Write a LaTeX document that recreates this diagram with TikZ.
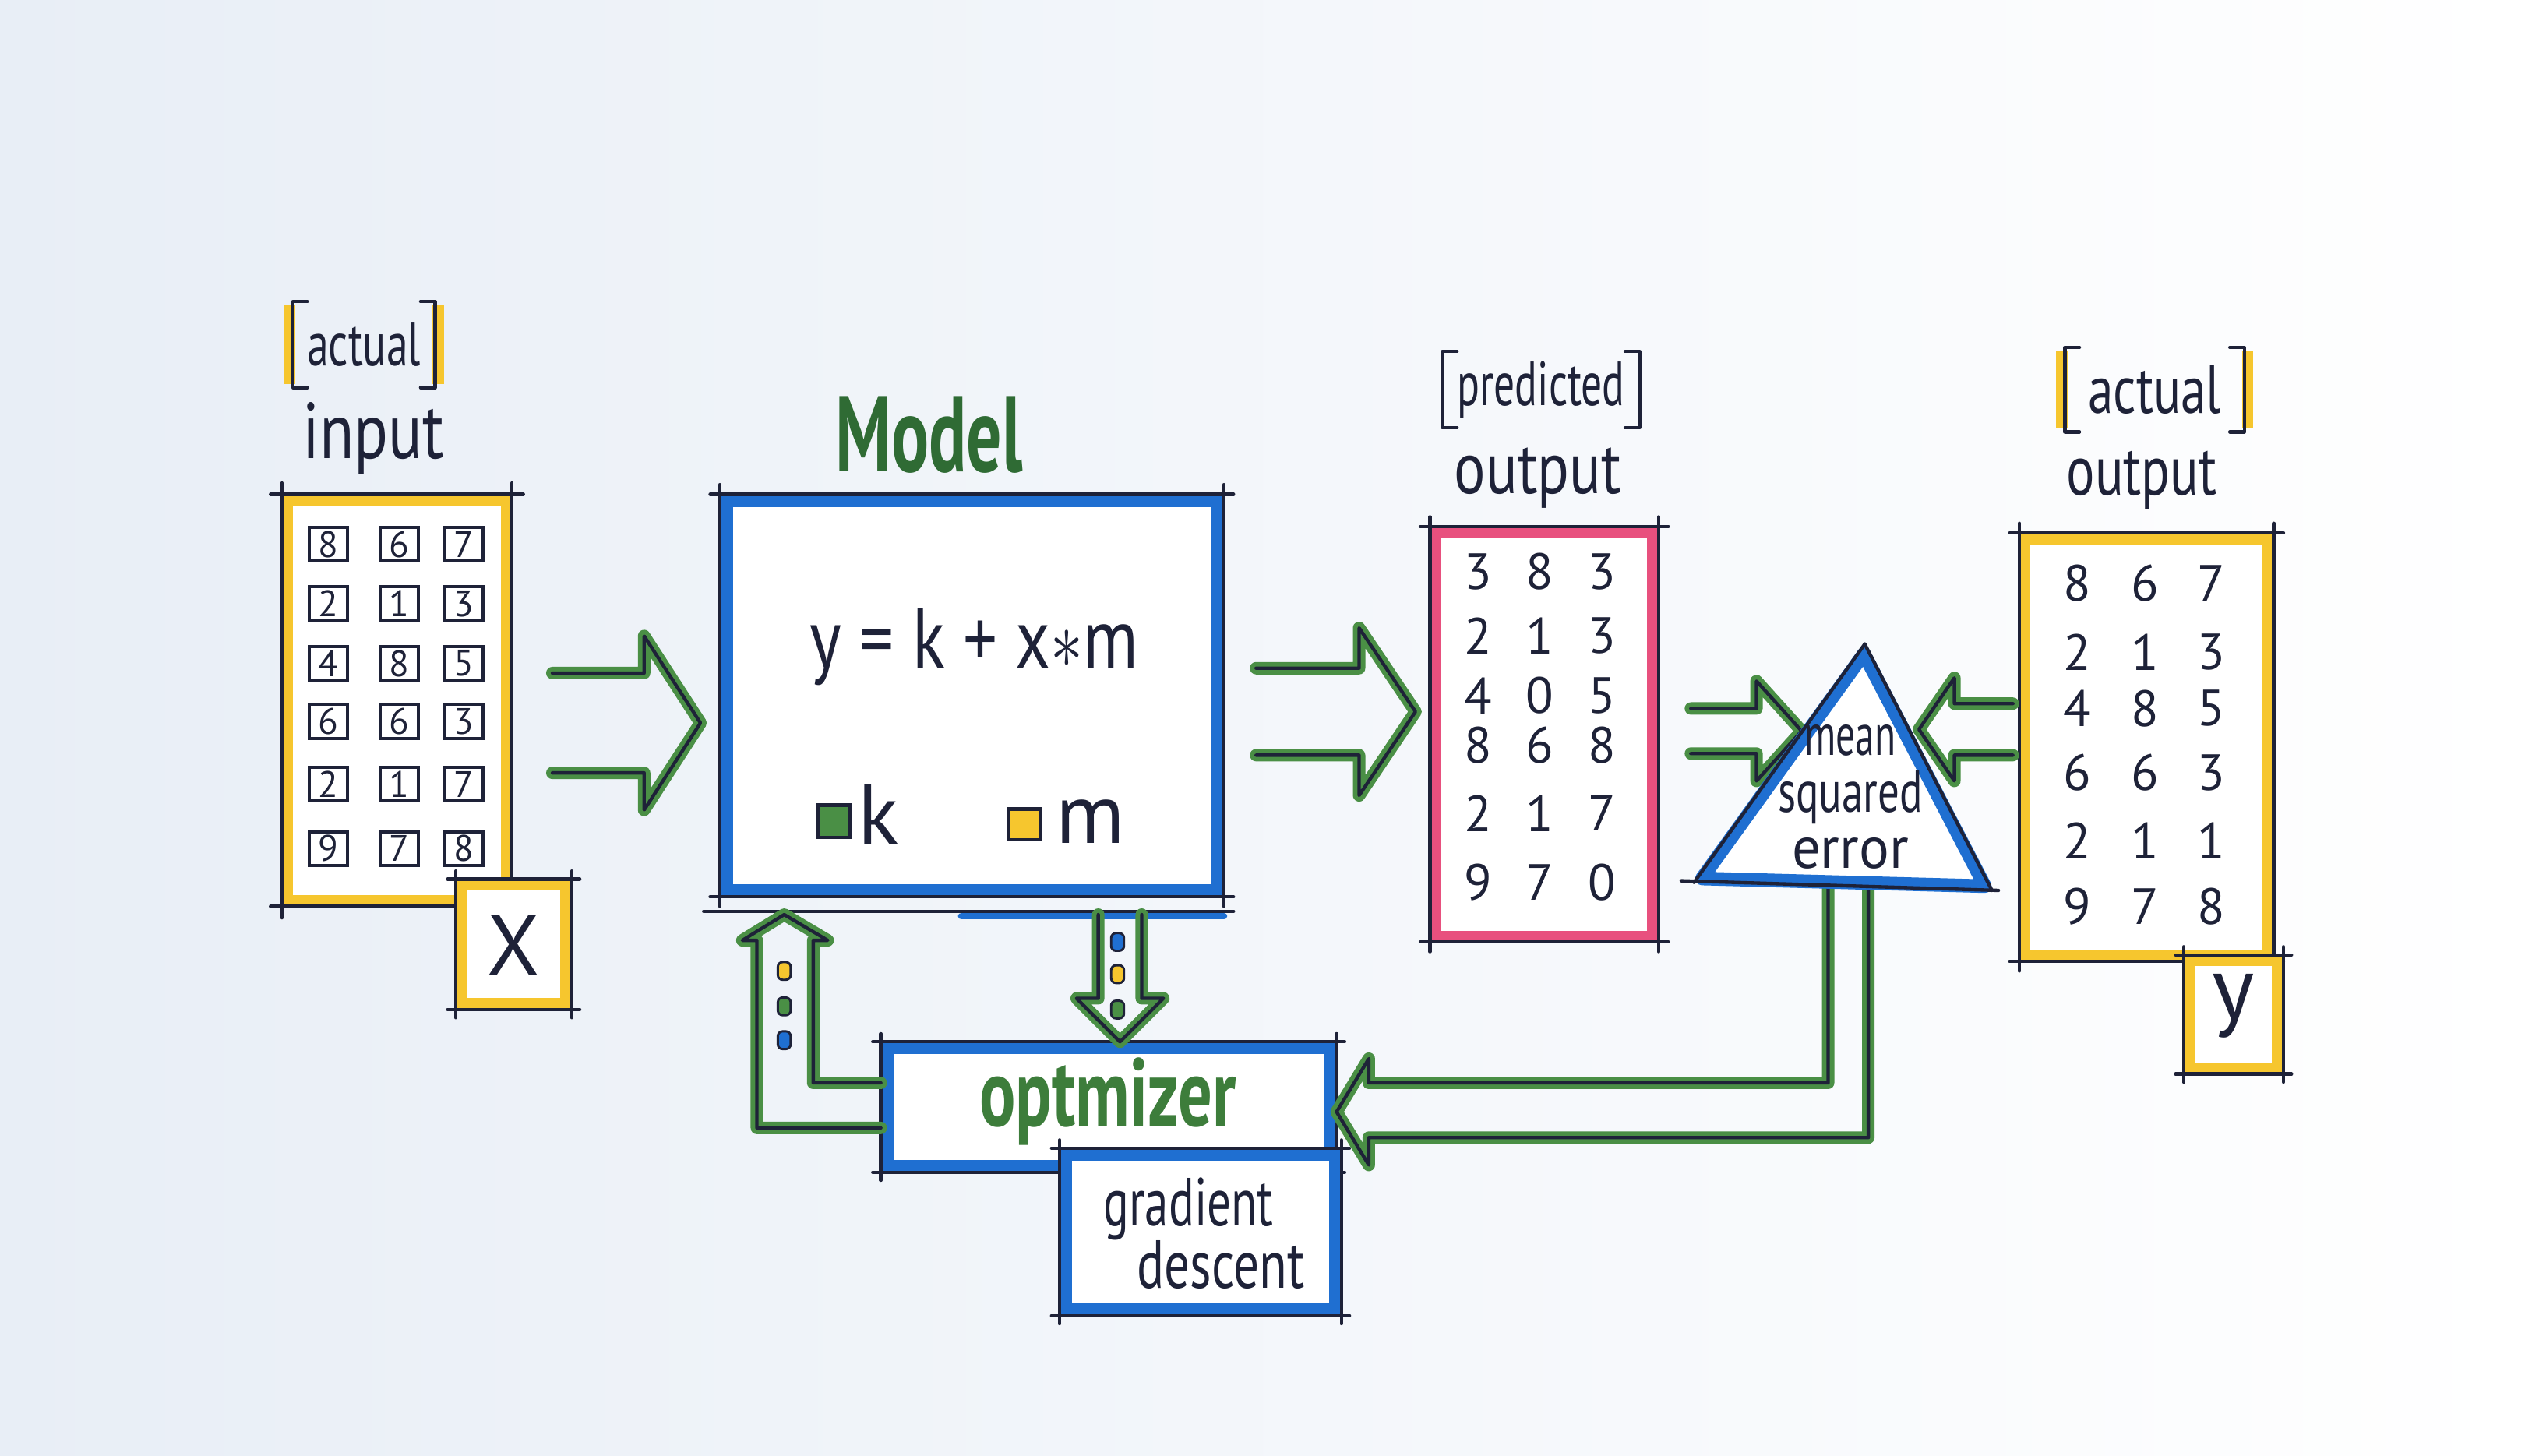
\documentclass[tikz,border=0pt]{standalone}
\usepackage{fontspec}
\setmainfont{PT Sans}
\usetikzlibrary{calc,fit}
\definecolor{ink}{HTML}{1E2238}
\definecolor{myyellow}{HTML}{F6C62E}
\definecolor{myblue}{HTML}{1F6FD1}
\definecolor{mygreen}{HTML}{4A8F45}
\definecolor{dkgreen}{HTML}{2F6B34}
\definecolor{optgreen}{HTML}{3D7D3B}
\definecolor{mypink}{HTML}{E8507E}
\definecolor{bgleft}{HTML}{E8EEF6}
\definecolor{bgmid}{HTML}{FAFBFD}

\newcommand\hw[3]{\scalebox{#1}[1]{\fontsize{#2}{#2}\selectfont #3}}

\newcommand\skbox[3]{%
  \draw[hilite,#2] ([shift={(3.5,3.5)}]#1.north west) rectangle ([shift={(-3.5,-3.5)}]#1.south east);
  \draw[inkline] ([shift={(-#3,0)}]#1.north west) -- ([shift={(#3,0)}]#1.north east);
  \draw[inkline] ([shift={(-#3,0)}]#1.south west) -- ([shift={(#3,0)}]#1.south east);
  \draw[inkline] ([shift={(0,-#3)}]#1.north west) -- ([shift={(0,#3)}]#1.south west);
  \draw[inkline] ([shift={(0,-#3)}]#1.north east) -- ([shift={(0,#3)}]#1.south east);
}
\newcommand\brk[2]{%
  \draw[line width=2pt,#2] ([shift={(-2,2)}]#1.north west) -- ([shift={(-2,-2)}]#1.south west);
  \draw[line width=2pt,#2] ([shift={(2,2)}]#1.north east) -- ([shift={(2,-2)}]#1.south east);
  \draw[inkline] ([shift={(9,0)}]#1.north west) -- (#1.north west) -- (#1.south west) -- ([shift={(9,0)}]#1.south west);
  \draw[inkline] ([shift={(-9,0)}]#1.north east) -- (#1.north east) -- (#1.south east) -- ([shift={(-9,0)}]#1.south east);
}
% fat arrows: style, tail, tip, shaft half, head half, head length
\newcommand\fatR[6]{%
  \draw[#1] ($(#2)+(0,-#4)$) -- ($(#3)+(-#6,-#4)$) -- ($(#3)+(-#6,-#5)$) -- (#3) -- ($(#3)+(-#6,#5)$) -- ($(#3)+(-#6,#4)$) -- ($(#2)+(0,#4)$);}
\newcommand\fatL[6]{%
  \draw[#1] ($(#2)+(0,-#4)$) -- ($(#3)+(#6,-#4)$) -- ($(#3)+(#6,-#5)$) -- (#3) -- ($(#3)+(#6,#5)$) -- ($(#3)+(#6,#4)$) -- ($(#2)+(0,#4)$);}
\newcommand\fatD[6]{%
  \draw[#1] ($(#2)+(-#4,0)$) -- ($(#3)+(-#4,-#6)$) -- ($(#3)+(-#5,-#6)$) -- (#3) -- ($(#3)+(#5,-#6)$) -- ($(#3)+(#4,-#6)$) -- ($(#2)+(#4,0)$);}

\begin{document}
\begin{tikzpicture}[x=0.1mm,y=-0.1mm,
  inkline/.style={draw=ink,line width=0.6pt,line cap=round,line join=round},
  hilite/.style={line width=2pt,line cap=round,line join=round},
  fitbox/.style={inner sep=0pt,outer sep=0pt},
  lbl/.style={text=ink,inner sep=0pt},
  dgt/.style={text=ink,font=\fontsize{9}{9}\selectfont,inner sep=0pt},
  boxdgt/.style={draw=ink,line width=0.55pt,text=ink,font=\fontsize{6.5}{6.5}\selectfont,minimum width=2.4mm,minimum height=2.1mm,inner sep=0pt},
  brlabel/.style={text=ink,inner sep=0pt},
  pdot/.style={draw=ink,line width=0.4pt,minimum width=0.8mm,minimum height=1.1mm,inner sep=0pt,rounded corners=0.3mm},
  greenln/.style={hilite,draw=mygreen,line width=2.2pt},
]
\useasboundingbox (0,0) rectangle (1568,904);
\shade[left color=bgleft,middle color=bgmid,right color=white] (0,0) rectangle (1568,904);

% ---------- input ----------
\node[brlabel,minimum width=8.7mm,minimum height=5.2mm] (lact) at (226,214) {\hw{0.7}{11}{actual}};
\brk{lact}{myyellow}
\node[lbl] (inlbl) at (232,272) {\hw{0.8}{14}{input}};
\node[fitbox,fill=white,fit={(175,307) (318,563)}] (inbox) {};
\skbox{inbox}{myyellow}{7}
\foreach \r/\yy/\a/\b/\c in {1/338/8/6/7,2/375/2/1/3,3/412/4/8/5,4/448/6/6/3,5/487/2/1/7,6/527/9/7/8}{
  \node[boxdgt] (in-\r-1) at (204,\yy) {\a};
  \node[boxdgt] (in-\r-2) at (248,\yy) {\b};
  \node[boxdgt] (in-\r-3) at (288,\yy) {\c};
}
\node[fitbox,fill=white,fit={(283,546) (355,627)}] (xbox) {};
\skbox{xbox}{myyellow}{5}
\node[lbl] (xtxt) at (319,587) {\fontsize{15}{15}\selectfont X};

% ---------- model ----------
\node[text=dkgreen,inner sep=0pt] (mtitle) at (577,270) {\hw{0.65}{19}{\bfseries Model}};
\node[fitbox,fill=white,fit={(447,307) (760,557)}] (model) {};
\skbox{model}{myblue,line width=2.6pt}{6}
\draw[inkline] ($(model.south west)+(-10,9)$) -- ($(model.south east)+(6,9)$);
\draw[hilite,myblue,line width=1.2pt] ($(model.south west)+(150,12)$) -- ($(model.south east)+(0,12)$);
\node[lbl] (eq) at (605,402) {\hw{0.8}{15}{y = k + x{$\ast$}m}};
\node[draw=ink,line width=0.6pt,fill=mygreen,minimum width=2mm,minimum height=2mm,inner sep=0pt] (kbox) at (518,510) {};
\node[lbl,anchor=west] (ktxt) at (532,506) {\fontsize{15}{15}\selectfont k};
\node[draw=ink,line width=0.6pt,fill=myyellow,minimum width=2mm,minimum height=1.9mm,inner sep=0pt] (mbox) at (636,512) {};
\node[lbl,anchor=west] (mtxt) at (655,510) {\fontsize{15}{15}\selectfont m};

% ---------- predicted output ----------
\node[brlabel,minimum width=12.1mm,minimum height=4.6mm] (lpred) at (957,242) {\hw{0.67}{11}{predicted}};
\brk{lpred}{draw=none}
\node[lbl] (poutlbl) at (955,297) {\hw{0.8}{13}{output}};
\node[fitbox,fill=white,fit={(888,327) (1030,585)}] (pred) {};
\skbox{pred}{mypink}{6}
\foreach \r/\yy/\a/\b/\c in {1/355/3/8/3,2/395/2/1/3,3/432/4/0/5,4/463/8/6/8,5/505/2/1/7,6/548/9/7/0}{
  \node[dgt] (pr-\r-1) at (918,\yy) {\a};
  \node[dgt] (pr-\r-2) at (956,\yy) {\b};
  \node[dgt] (pr-\r-3) at (995,\yy) {\c};
}

% ---------- actual output ----------
\node[brlabel,minimum width=11mm,minimum height=5.1mm] (ract) at (1338,242) {\hw{0.75}{12}{actual}};
\brk{ract}{myyellow}
\node[lbl] (routlbl) at (1330,298) {\hw{0.75}{12.5}{output}};
\node[fitbox,fill=white,fit={(1254,331) (1412,597)}] (outbox) {};
\skbox{outbox}{myyellow}{6}
\foreach \r/\yy/\a/\b/\c in {1/362/8/6/7,2/405/2/1/3,3/440/4/8/5,4/480/6/6/3,5/522/2/1/1,6/563/9/7/8}{
  \node[dgt] (ac-\r-1) at (1290,\yy) {\a};
  \node[dgt] (ac-\r-2) at (1332,\yy) {\b};
  \node[dgt] (ac-\r-3) at (1373,\yy) {\c};
}
\node[fitbox,fill=white,fit={(1356,593) (1418,667)}] (ybox) {};
\skbox{ybox}{myyellow}{5}
\node[lbl] (ytxt) at (1387,625) {\fontsize{16}{16}\selectfont y};

% ---------- optimizer ----------
\node[fitbox,fill=white,fit={(547,647) (830,728)}] (opt) {};
\skbox{opt}{myblue,line width=2.4pt}{5}
\node[text=optgreen,inner sep=0pt] (opttxt) at (688,684) {\hw{0.7}{17}{\bfseries optmizer}};
\node[fitbox,fill=white,fit={(658,713) (833,817)}] (grad) {};
\skbox{grad}{myblue,line width=2.4pt}{5}
\node[text=ink,inner sep=0pt,align=center,font=\fontsize{12}{11}\selectfont] (gradtxt) at (738,766)
  {\scalebox{0.7}[1]{gradient}\\\hspace{4mm}\scalebox{0.75}[1]{descent}};

% ---------- MSE triangle ----------
\coordinate (mseA) at (1158,400);
\coordinate (mseL) at (1052,548);
\coordinate (mseR) at (1237,553);
\coordinate (msec) at (1149,500);
\coordinate (mseLm) at ($(mseL)!0.63!(mseA)$);
\coordinate (mseRm) at ($(mseR)!0.65!(mseA)$);

% ---------- green arrows ----------
\coordinate (a1s) at ($(inbox.east)+(25,14)$);
\coordinate (a1e) at ($(a1s -| model.west)+(-12,0)$);
\fatR{greenln}{a1s}{a1e}{31}{54}{35}
\fatR{inkline}{a1s}{a1e}{31}{54}{35}

\coordinate (a2s) at ($(model.east)+(20,10)$);
\coordinate (a2e) at ($(a2s -| pred.west)+(-9,0)$);
\fatR{greenln}{a2s}{a2e}{27}{52}{35}
\fatR{inkline}{a2s}{a2e}{27}{52}{35}

\coordinate (a3s) at ($(pred.east)+(20,-2)$);
\coordinate (a3e) at (a3s -| mseLm);
\fatR{greenln}{a3s}{a3e}{14}{31}{28}
\fatR{inkline}{a3s}{a3e}{14}{31}{28}

\coordinate (a4s) at ($(outbox.west)+(-4,-11)$);
\coordinate (a4e) at ($(a4s -| mseRm)+(6,0)$);
\fatL{greenln}{a4s}{a4e}{16}{32}{22}
\fatL{inkline}{a4s}{a4e}{16}{32}{22}

% model -> optimizer (down)
\coordinate (dts) at ($(model.south)+(92,11)$);
\coordinate (dte) at (dts |- opt.north);
\fatD{greenln}{dts}{dte}{13.5}{27}{27}
\fatD{inkline}{dts}{dte}{13.5}{27}{27}
\node[pdot,fill=myblue] (dd1) at (694,585) {};
\node[pdot,fill=myyellow] (dd2) at (694,605) {};
\node[pdot,fill=mygreen] (dd3) at (694,627) {};

% optimizer -> model (up, L-shaped)
\coordinate (utip) at ($(model.south)+(-116.5,11)$);
\coordinate (uL) at ($(utip)+(-17,0)$);
\coordinate (uR) at ($(utip)+(18,0)$);
\coordinate (ua) at ($(opt.west)+(0,13)$);
\coordinate (ub) at ($(opt.west)+(0,-15)$);
\draw[greenln] (ua) -- (ua -| uL) -- ($(uL)+(0,16)$) -- ($(uL)+(-9,16)$) -- (utip) -- ($(uR)+(9,16)$) -- ($(uR)+(0,16)$) -- (ub -| uR) -- (ub);
\draw[inkline] (ua) -- (ua -| uL) -- ($(uL)+(0,16)$) -- ($(uL)+(-9,16)$) -- (utip) -- ($(uR)+(9,16)$) -- ($(uR)+(0,16)$) -- (ub -| uR) -- (ub);
\node[pdot,fill=myyellow] (ud1) at (487,603) {};
\node[pdot,fill=mygreen] (ud2) at (487,625) {};
\node[pdot,fill=myblue] (ud3) at (487,646) {};

% MSE -> optimizer
\coordinate (m1) at ($(mseL)!0.45!(mseR)$);
\coordinate (m2) at ($(mseL)!0.585!(mseR)$);
\coordinate (mtip) at ($(opt.east)+(0,3)$);
\coordinate (hu) at ($(mtip)+(20,-18)$);
\coordinate (hl) at ($(mtip)+(20,16)$);
\draw[greenln] (m1) -- (m1 |- hu) -- (hu) -- ($(mtip)+(20,-33)$) -- (mtip) -- ($(mtip)+(20,33)$) -- (hl) -- (m2 |- hl) -- (m2);
\draw[inkline] (m1) -- (m1 |- hu) -- (hu) -- ($(mtip)+(20,-33)$) -- (mtip) -- ($(mtip)+(20,33)$) -- (hl) -- (m2 |- hl) -- (m2);

% triangle drawing
\fill[white] (mseA) -- (mseL) -- (mseR) -- cycle;
\draw[hilite,myblue,line width=2.4pt] ($(mseA)!0.06!(msec)$) -- ($(mseL)!0.05!(msec)$) -- ($(mseR)!0.05!(msec)$) -- cycle;
\draw[inkline] (mseA) -- (mseL);
\draw[inkline] (mseA) -- (mseR);
\draw[inkline] ($(mseL)+(-8,-1)$) -- ($(mseR)+(4,0)$);
\node[text=ink,inner sep=0pt,align=center,font=\fontsize{10.5}{10}\selectfont] (mse) at (1149,495)
  {\scalebox{0.65}[1]{mean}\\\scalebox{0.72}[1]{squared}\\\scalebox{0.95}[1]{error}};

\end{tikzpicture}
\end{document}
